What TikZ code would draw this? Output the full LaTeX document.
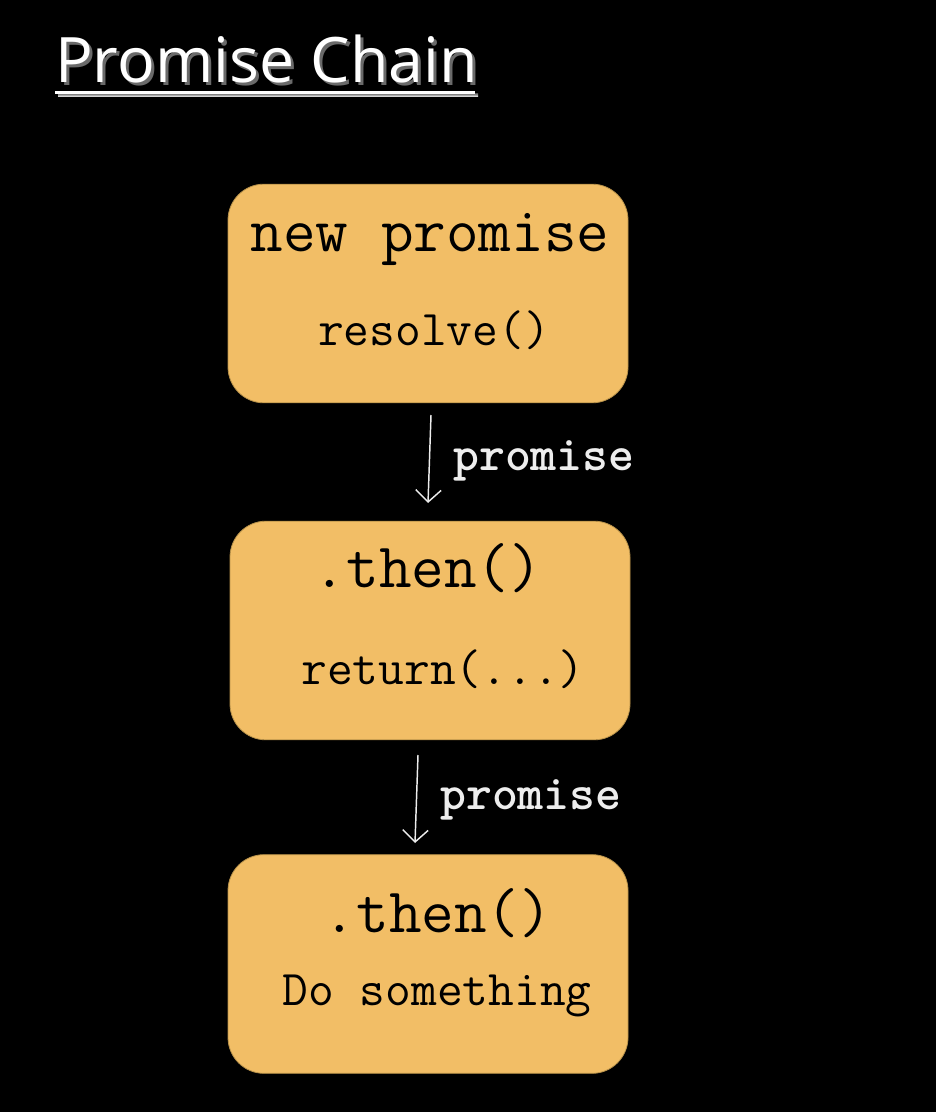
\documentclass[tikz,border=0pt]{standalone}
\usepackage{fontspec}
\setmainfont{Open Sans}
\usetikzlibrary{arrows.meta}
\definecolor{boxfill}{HTML}{F2BE66}
\definecolor{boxline}{HTML}{B8924A}
\definecolor{chalk}{HTML}{EDEDED}
\definecolor{shade}{HTML}{6A6A6A}
\tikzset{
  stagebox/.style={draw=boxline, line width=0.6pt, fill=boxfill, rounded corners=27pt,
    minimum width=300pt, minimum height=164pt},
  headtext/.style={anchor=base, inner sep=0pt, font=\ttfamily\fontsize{47.5}{56}\selectfont},
  subtext/.style={anchor=base, inner sep=0pt, font=\ttfamily\fontsize{37.5}{44}\selectfont},
  passlabel/.style={anchor=base west, inner sep=0pt, text=chalk,
    font=\ttfamily\bfseries\fontsize{37}{44}\selectfont},
  passarrow/.style={draw=chalk, line width=1.1pt, -{Straight Barb[length=9pt,width=19pt]}},
}
\begin{document}
\begin{tikzpicture}[x=0.75pt, y=-0.75pt]
  \fill[black] (0,0) rectangle (936,1112);
  \useasboundingbox (0,0) rectangle (936,1112);
  % Title with shadow
  \node[anchor=base west, inner sep=0pt, text=shade, font=\fontsize{47}{56}\selectfont] (titleshadow) at (58,86) {Promise Chain};
  \fill[shade] (58,94) rectangle (478,97);
  \node[anchor=base west, inner sep=0pt, text=white, font=\fontsize{47}{56}\selectfont] (title) at (55,83) {Promise Chain};
  \fill[white] (55,91) rectangle (475,94);
  % Stages
  \node[stagebox] (newp) at (428,293.5) {};
  \node[stagebox] (then1) at (430,630.5) {};
  \node[stagebox] (then2) at (428,964) {};
  \node[headtext] (newphead) at (430,252) {new promise};
  \node[subtext] (newpsub) at (434,345) {resolve()};
  \node[headtext] (then1head) at (428,587) {.then()};
  \node[subtext] (then1sub) at (443,684) {return(...)};
  \node[headtext] (then2head) at (438,932) {.then()};
  \node[subtext] (then2sub) at (437,1005) {Do something};
  % Passing the promise along
  \coordinate (pass1top) at (431,415);
  \coordinate (pass1bot) at (428,503);
  \coordinate (pass2top) at (418,755);
  \coordinate (pass2bot) at (415,843);
  \draw[passarrow] (pass1top) -- (pass1bot);
  \draw[passarrow] (pass2top) -- (pass2bot);
  \node[passlabel] (pass1) at (453,470) {promise};
  \node[passlabel] (pass2) at (440,809) {promise};
\end{tikzpicture}
\end{document}
